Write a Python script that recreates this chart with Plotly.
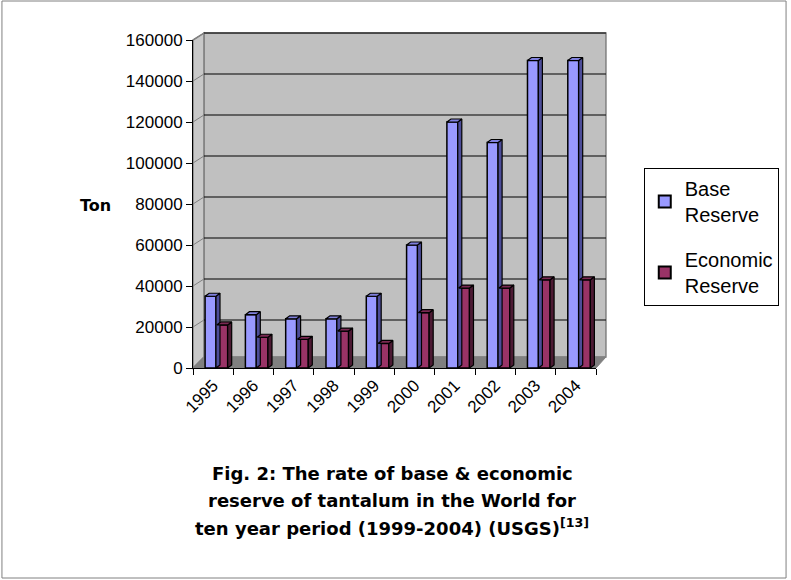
import plotly.graph_objects as go

years = ["1995", "1996", "1997", "1998", "1999", "2000", "2001", "2002", "2003", "2004"]
base_reserve = [35000, 26000, 24000, 24000, 35000, 60000, 120000, 110000, 150000, 150000]
economic_reserve = [21000, 15000, 14000, 18000, 12000, 27000, 39000, 39000, 43000, 43000]
y_ticks = [0, 20000, 40000, 60000, 80000, 100000, 120000, 140000, 160000]

W, H = 791, 580
L, R, T, B = 193, 193, 40, 212
pw, ph = W - L - R, H - T - B
YMAX = 160000

def px(x):
    return (x - L) / pw

def py(y):
    return (H - B - y) / ph

pos = list(range(len(years)))
BAR_W = 0.27
OFF_BASE, OFF_ECON = -0.2, 0.09
DX = 0.1                      # depth offset (category units)
DY = 3 * YMAX / ph            # depth offset (data units, ~3px)

def faces(values, off):
    sx, sy, tx, ty = [], [], [], []
    for i, v in zip(pos, values):
        x0 = i + off
        x1 = x0 + BAR_W
        sx += [x1, x1 + DX, x1 + DX, x1, x1, None]
        sy += [0, DY, v + DY, v, 0, None]
        tx += [x0, x0 + DX, x1 + DX, x1, x0, None]
        ty += [v, v + DY, v + DY, v, v, None]
    return sx, sy, tx, ty

fig = go.Figure()
series = [
    ("Base<br>Reserve", base_reserve, OFF_BASE, "#9999ff", "#4d4d99", "#8080dd"),
    ("Economic<br>Reserve", economic_reserve, OFF_ECON, "#993366", "#4c1a33", "#7a2952"),
]
for name, vals, off, col, side, top in series:
    fig.add_trace(go.Bar(x=pos, y=vals, name=name, offset=off, width=BAR_W, legendgroup=name,
                         marker=dict(color=col, line=dict(color="black", width=1.5))))
    sx, sy, tx, ty = faces(vals, off)
    fig.add_trace(go.Scatter(x=sx, y=sy, mode="lines", fill="toself", fillcolor=side,
                             line=dict(color="black", width=1.2), showlegend=False,
                             legendgroup=name, hoverinfo="skip"))
    fig.add_trace(go.Scatter(x=tx, y=ty, mode="lines", fill="toself", fillcolor=top,
                             line=dict(color="black", width=1.2), showlegend=False,
                             legendgroup=name, hoverinfo="skip"))

# invisible trace on the overlay axis carrying boundary ticks
fig.add_trace(go.Scatter(x=[-0.5, 9.5], y=[0, 0], xaxis="x2", mode="lines",
                         line=dict(width=0), showlegend=False, hoverinfo="skip"))

fig.update_layout(
    width=W, height=H,
    margin=dict(l=L, r=R, t=T, b=B),
    paper_bgcolor="white",
    plot_bgcolor="rgba(0,0,0,0)",
    barmode="overlay",
    font=dict(family="Liberation Sans, Arial", color="black"),
    showlegend=True,
    legend=dict(x=px(646), y=py(168), xanchor="left", yanchor="top",
                bordercolor="black", borderwidth=1, bgcolor="white",
                font=dict(size=20), itemsizing="constant", tracegroupgap=16,
                itemwidth=30, traceorder="grouped"),
    xaxis=dict(range=[-0.5, 9.5], tickvals=pos, ticktext=years, tickangle=-45,
               ticks="", showline=True, linecolor="black", linewidth=1,
               tickfont=dict(size=17), showgrid=False, zeroline=False),
    xaxis2=dict(range=[-0.5, 9.5], overlaying="x", side="bottom",
                tickvals=[i - 0.5 for i in pos] + [9.5], ticks="outside", ticklen=6,
                tickcolor="black", showticklabels=False, showgrid=False,
                zeroline=False, showline=False),
    yaxis=dict(range=[0, YMAX], tickvals=y_ticks, tickformat="d", ticks="outside",
               ticklen=6, tickcolor="black", showline=True, linecolor="black",
               linewidth=1, showgrid=False, tickfont=dict(size=17), zeroline=False),
)

# pseudo-3D box: back wall, left wall, floor
fig.add_shape(type="rect", xref="paper", yref="paper", x0=px(204), x1=px(608),
              y0=py(357), y1=py(33), fillcolor="#c0c0c0",
              line=dict(color="#808080", width=1.5), layer="below")
fig.add_shape(type="path", xref="paper", yref="paper",
              path=f"M {px(193)} {py(368)} L {px(193)} {py(40)} L {px(204)} {py(33)} "
                   f"L {px(204)} {py(357)} Z",
              fillcolor="#c8c8c8", line=dict(color="#808080", width=1.5), layer="below")
fig.add_shape(type="path", xref="paper", yref="paper",
              path=f"M {px(193)} {py(368)} L {px(598)} {py(368)} L {px(608)} {py(357)} "
                   f"L {px(204)} {py(357)} Z",
              fillcolor="#808080", line=dict(color="#808080", width=1), layer="below")
# gridlines on the back wall (shifted by the depth offset)
for t in y_ticks[1:]:
    yp = t / YMAX + 7 / ph
    fig.add_shape(type="line", xref="paper", yref="paper", x0=px(204), x1=px(608),
                  y0=yp, y1=yp, line=dict(color="black", width=1), layer="below")
    fig.add_shape(type="line", xref="paper", yref="paper", x0=0, x1=px(204),
                  y0=t / YMAX, y1=yp, line=dict(color="#808080", width=1), layer="below")

fig.add_annotation(text="<b>Ton</b>", xref="paper", yref="paper", x=px(95), y=py(205),
                   xanchor="center", yanchor="middle",
                   showarrow=False, font=dict(size=16, family="DejaVu Sans"))
caption_lines = ["<b>Fig. 2: The rate of base &amp; economic</b>",
                 "<b>reserve of tantalum in the World for</b>",
                 "<b>ten year period (1999-2004) (USGS)<sup>[13]</sup></b>"]
for line, yc in zip(caption_lines, [473, 500, 527]):
    fig.add_annotation(text=line, xref="paper", yref="paper", x=px(393), y=py(yc),
                       xanchor="center", yanchor="middle",
                       showarrow=False, font=dict(size=18, family="DejaVu Sans"),
                       align="center")
# outer frame
fig.add_shape(type="rect", xref="paper", yref="paper", x0=px(1), x1=px(789),
              y0=py(578), y1=py(1), line=dict(color="#808080", width=1))

fig.write_html("out.html")
